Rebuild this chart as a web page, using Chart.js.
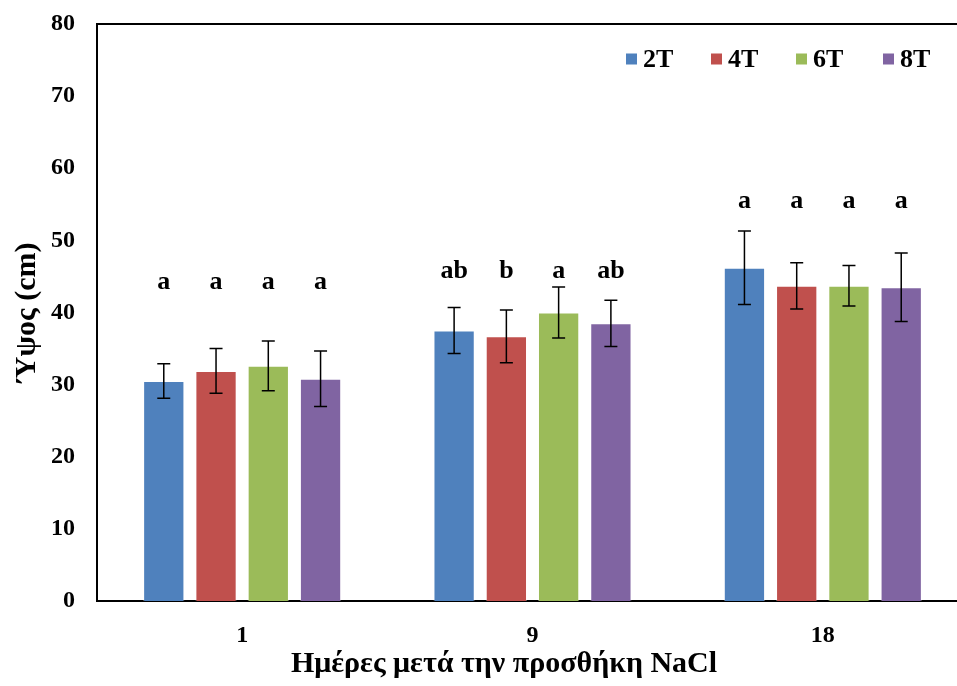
<!DOCTYPE html>
<html>
<head>
<meta charset="utf-8">
<script src="https://cdn.jsdelivr.net/npm/chart.js@4.4.1/dist/chart.umd.min.js"></script>
<style>
  html, body { margin: 0; padding: 0; background: #ffffff; overflow: hidden; }
  #wrap { width: 957px; height: 686px; overflow: hidden; position: relative; }
  canvas { display: block; }
</style>
</head>
<body>
<div id="wrap"><canvas id="c" width="975" height="686" style="width:975px;height:686px"></canvas></div>
<script>
// ---- data ----
const categories = ['1', '9', '18'];
const seriesNames = ['2T', '4T', '6T', '8T'];
const values2T = [30.5, 37.5, 46.2];
const values4T = [31.9, 36.7, 43.7];
const values6T = [32.6, 40.0, 43.7];
const values8T = [30.8, 38.5, 43.5];
const err2T = [2.4, 3.2, 5.1];
const err4T = [3.1, 3.65, 3.2];
const err6T = [3.45, 3.55, 2.8];
const err8T = [3.85, 3.2, 4.75];
const letters2T = ['a', 'ab', 'a'];
const letters4T = ['a', 'b', 'a'];
const letters6T = ['a', 'a', 'a'];
const letters8T = ['a', 'ab', 'a'];
const letterLevel = [44.2, 45.7, 55.4];
const yTicks = [0, 10, 20, 30, 40, 50, 60, 70, 80];
const yTitle = 'Ύψος (cm)';
const xTitle = 'Ημέρες μετά την προσθήκη NaCl';

const colors = ['#4F81BD', '#C0504D', '#9BBB59', '#8064A2'];
const allValues = [values2T, values4T, values6T, values8T];
const allErr = [err2T, err4T, err6T, err8T];
const allLetters = [letters2T, letters4T, letters6T, letters8T];
const FONT = "'Liberation Serif', 'Times New Roman', serif";

const datasets = seriesNames.map((n, i) => ({
  label: n,
  data: allValues[i],
  backgroundColor: colors[i],
  borderColor: 'rgba(255,255,255,0.35)',
  borderWidth: 1,
  errors: allErr[i],
  letters: allLetters[i],
  categoryPercentage: 0.72,
  barPercentage: 0.79
}));

const extrasPlugin = {
  id: 'extras',
  afterDatasetsDraw(chart) {
    const ctx = chart.ctx;
    const y = chart.scales.y;
    const ca = chart.chartArea;
    ctx.save();
    // top border line
    ctx.strokeStyle = '#000';
    ctx.lineWidth = 2;
    ctx.beginPath();
    ctx.moveTo(ca.left - 1, ca.top);
    ctx.lineTo(ca.right, ca.top);
    ctx.stroke();
    // error bars + letters
    chart.data.datasets.forEach((ds, di) => {
      const meta = chart.getDatasetMeta(di);
      meta.data.forEach((bar, j) => {
        const v = ds.data[j], e = ds.errors[j];
        const yt = y.getPixelForValue(v + e);
        const yb = y.getPixelForValue(v - e);
        const x = bar.x;
        ctx.strokeStyle = '#000';
        ctx.lineWidth = 1.5;
        ctx.beginPath();
        ctx.moveTo(x, yt); ctx.lineTo(x, yb);
        ctx.moveTo(x - 6.5, yt); ctx.lineTo(x + 6.5, yt);
        ctx.moveTo(x - 6.5, yb); ctx.lineTo(x + 6.5, yb);
        ctx.stroke();
        ctx.fillStyle = '#000';
        ctx.font = 'bold 26px ' + FONT;
        ctx.textAlign = 'center';
        ctx.textBaseline = 'middle';
        ctx.fillText(ds.letters[j], x, y.getPixelForValue(letterLevel[j]));
      });
    });
    // legend
    const legX = [626, 711, 796, 883];
    const legY = 59;
    ctx.font = 'bold 26px ' + FONT;
    ctx.textAlign = 'left';
    ctx.textBaseline = 'middle';
    chart.data.datasets.forEach((ds, di) => {
      ctx.fillStyle = ds.backgroundColor;
      ctx.fillRect(legX[di], legY - 5.5, 11, 11);
      ctx.fillStyle = '#000';
      ctx.fillText(ds.label, legX[di] + 17, legY + 1);
    });
    // x axis title
    ctx.font = 'bold 30px ' + FONT;
    ctx.textAlign = 'center';
    ctx.textBaseline = 'middle';
    ctx.fillText(xTitle, 504, 664);
    ctx.restore();
  }
};

new Chart(document.getElementById('c'), {
  type: 'bar',
  data: { labels: categories, datasets },
  options: {
    responsive: false,
    animation: false,
    devicePixelRatio: 1,
    layout: { padding: { top: 24, right: 7, left: 0, bottom: 0 } },
    plugins: { legend: { display: false }, tooltip: { enabled: false } },
    scales: {
      x: {
        grid: { display: false, drawTicks: false },
        border: { display: true, color: '#000', width: 2 },
        ticks: { color: '#000', font: { family: FONT, size: 24, weight: 'bold' }, padding: 20 },
        afterFit(s) { s.height = 85; s.paddingLeft = 0; s.paddingRight = 0; }
      },
      y: {
        min: 0, max: 80,
        afterBuildTicks(s) { s.ticks = yTicks.map(v => ({ value: v })); },
        grid: { display: false, drawTicks: false },
        border: { display: true, color: '#000', width: 2 },
        ticks: { color: '#000', font: { family: FONT, size: 24, weight: 'bold' }, padding: 22 },
        title: { display: true, text: yTitle, color: '#000', font: { family: FONT, size: 30, weight: 'bold' }, padding: { top: 9, bottom: 0 } },
        afterFit(s) { s.width = 97; s.paddingTop = 0; s.paddingBottom = 0; }
      }
    }
  },
  plugins: [extrasPlugin]
});
</script>
</body>
</html>
